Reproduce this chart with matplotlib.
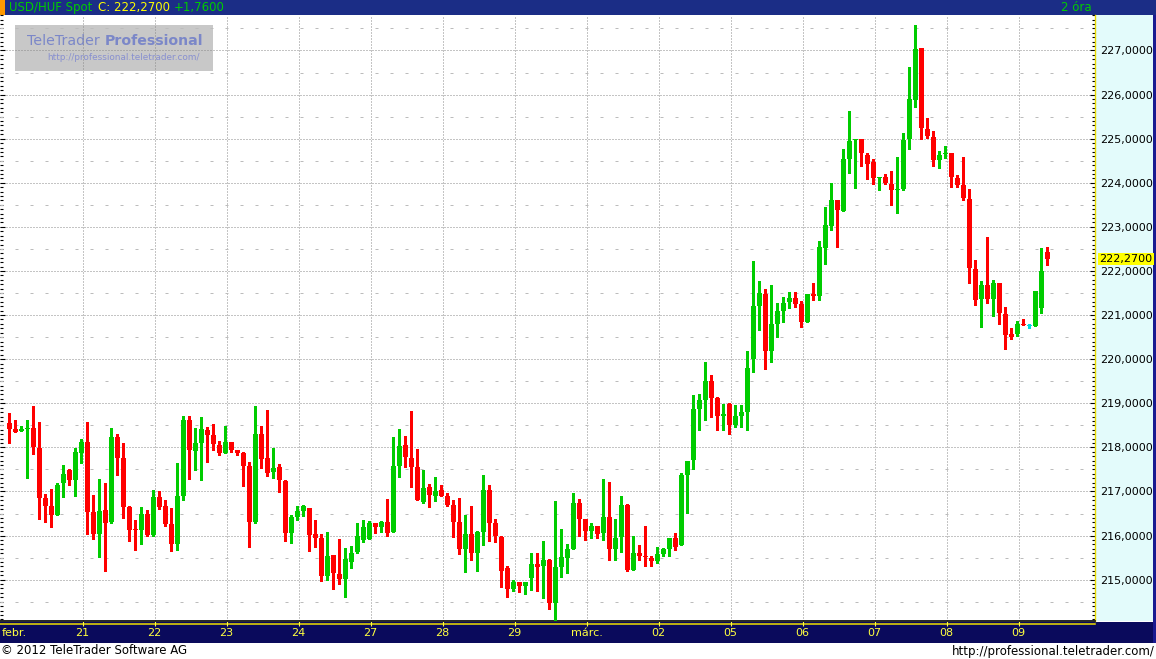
import numpy as np
import matplotlib.pyplot as plt
from matplotlib.patches import Rectangle
from matplotlib.ticker import MultipleLocator, FuncFormatter

# 2-hour USD/HUF candles, 12 per trading day
opens = np.array([
    218.55, 218.42, 218.38, 218.42, 218.44, 217.99, 216.85, 216.67, 216.47, 217.20, 217.49, 217.27,
    217.88, 218.12, 216.53, 216.04, 216.58, 216.31, 218.24, 217.76, 216.64, 216.15, 216.13, 216.48,
    216.01, 216.87, 216.67, 216.26, 215.81, 216.90, 218.62, 217.92, 218.11, 218.39, 218.28, 218.05,
    217.88, 218.12, 217.94, 217.87, 217.58, 216.31, 218.30, 217.76, 217.45, 217.55, 217.24, 216.06,
    216.42, 216.55, 216.62, 216.03, 215.94, 215.08, 215.55, 215.14, 215.02, 215.40, 215.63, 215.90,
    215.92, 216.28, 216.20, 216.30, 216.08, 217.58, 218.05, 217.76, 217.55, 216.77, 217.10, 216.90,
    217.03, 216.90, 216.69, 216.30, 215.70, 216.03, 215.61, 216.08, 217.03, 216.28, 215.96, 215.26,
    214.79, 214.94, 214.86, 215.04, 215.35, 215.31, 215.44, 214.47, 215.29, 215.49, 215.70, 216.73,
    216.37, 216.11, 216.21, 216.06, 216.42, 215.70, 215.97, 216.69, 215.22, 215.60, 215.53, 215.50,
    215.42, 215.58, 215.70, 215.94, 215.79, 217.38, 217.71, 218.87, 219.08, 219.51, 219.12, 218.71,
    218.99, 218.50, 218.71, 218.80, 220.01, 221.21, 221.48, 220.19, 220.80, 221.10, 221.30, 221.39,
    221.26, 220.85, 221.47, 221.44, 222.53, 223.03, 223.60, 223.37, 224.53, 224.96, 225.00, 224.64,
    224.48, 224.10, 224.14, 223.98, 223.83, 223.87, 224.99, 225.87, 227.05, 225.23, 225.03, 224.52,
    224.66, 224.67, 224.12, 223.94, 223.64, 222.05, 221.36, 221.68, 221.36, 221.73, 221.02, 220.57,
    220.56, 220.80, 220.75, 220.76, 221.15, 222.42,
])
highs = np.array([
    218.78, 218.62, 218.49, 218.62, 218.94, 218.58, 216.94, 217.05, 217.19, 217.60, 217.51, 217.99,
    218.18, 218.58, 216.92, 217.28, 217.19, 218.44, 218.30, 218.10, 216.67, 216.36, 216.64, 216.58,
    217.03, 217.00, 216.80, 216.62, 217.64, 218.71, 218.71, 218.44, 218.69, 218.46, 218.53, 218.14,
    218.49, 218.12, 217.94, 217.89, 217.67, 218.94, 218.48, 218.85, 217.98, 217.62, 217.26, 216.46,
    216.67, 216.69, 216.62, 216.35, 216.03, 216.08, 215.57, 215.92, 215.71, 215.76, 216.28, 216.35,
    216.33, 216.28, 216.33, 216.83, 218.23, 218.42, 218.26, 218.83, 217.96, 217.48, 217.17, 217.33,
    217.14, 216.96, 216.80, 216.86, 216.46, 216.67, 216.10, 217.37, 217.14, 216.37, 215.98, 215.30,
    214.99, 214.94, 214.94, 215.60, 215.60, 215.87, 215.46, 216.78, 216.14, 215.80, 216.96, 216.83,
    216.37, 216.28, 216.21, 217.28, 217.21, 216.37, 216.89, 216.71, 215.98, 215.78, 216.21, 215.53,
    215.73, 215.71, 215.94, 216.05, 217.42, 217.69, 219.19, 219.21, 219.94, 219.64, 219.14, 218.98,
    219.00, 218.96, 218.96, 220.19, 222.23, 221.78, 221.60, 221.69, 221.28, 221.42, 221.53, 221.53,
    221.33, 221.48, 221.73, 222.67, 223.44, 224.00, 223.62, 224.76, 225.62, 225.00, 225.00, 224.67,
    224.53, 224.14, 224.19, 224.26, 224.58, 225.14, 226.62, 227.58, 227.05, 225.46, 225.17, 224.73,
    224.83, 224.67, 224.17, 224.58, 223.85, 222.25, 221.77, 222.76, 221.80, 221.73, 221.18, 220.70,
    220.87, 220.92, 220.80, 221.55, 222.53, 222.55,
])
lows = np.array([
    218.11, 218.35, 218.37, 217.31, 217.86, 216.38, 216.31, 216.20, 216.47, 216.88, 217.15, 216.89,
    217.65, 216.04, 215.93, 215.52, 215.20, 216.29, 217.38, 216.40, 215.88, 215.67, 215.81, 216.00,
    216.00, 216.60, 216.22, 215.66, 215.67, 216.81, 217.29, 217.49, 217.27, 217.67, 217.95, 217.83,
    217.88, 217.90, 217.83, 217.13, 215.74, 216.29, 217.54, 217.36, 217.31, 216.98, 215.88, 215.83,
    216.36, 216.45, 215.66, 215.74, 214.98, 215.00, 214.78, 214.90, 214.60, 215.27, 215.60, 215.86,
    215.92, 216.06, 216.08, 215.98, 216.08, 217.33, 217.56, 217.10, 216.81, 216.74, 216.65, 216.79,
    216.90, 216.67, 215.97, 215.58, 215.17, 215.45, 215.20, 215.79, 215.88, 215.86, 214.83, 214.61,
    214.74, 214.72, 214.67, 214.77, 214.74, 214.58, 214.33, 214.08, 215.05, 215.15, 215.70, 216.00,
    215.90, 215.95, 215.95, 215.90, 215.45, 215.45, 215.63, 215.20, 215.22, 215.45, 215.31, 215.31,
    215.38, 215.54, 215.54, 215.67, 215.79, 216.52, 217.51, 218.39, 218.62, 218.69, 218.39, 218.39,
    218.30, 218.46, 218.46, 218.39, 219.71, 220.67, 219.78, 219.94, 220.51, 220.85, 221.17, 221.19,
    220.72, 220.85, 221.35, 221.35, 222.15, 222.94, 222.55, 223.37, 224.23, 223.89, 224.39, 224.08,
    223.98, 223.83, 223.98, 223.49, 223.31, 223.83, 224.77, 225.73, 224.99, 225.02, 224.38, 224.33,
    224.56, 223.90, 223.90, 223.61, 221.73, 221.23, 220.72, 221.27, 220.98, 220.79, 220.22, 220.45,
    220.52, 220.77, 220.70, 220.76, 221.04, 222.13,
])
closes = np.array([
    218.42, 218.36, 218.42, 218.44, 218.00, 216.86, 216.67, 216.47, 217.14, 217.39, 217.27, 217.89,
    218.12, 216.54, 216.04, 216.56, 216.29, 218.24, 217.77, 216.65, 216.13, 216.13, 216.48, 216.02,
    216.87, 216.65, 216.27, 215.81, 216.90, 218.62, 217.93, 218.10, 218.42, 218.29, 218.08, 217.88,
    218.12, 217.95, 217.88, 217.58, 216.31, 218.30, 217.74, 217.42, 217.53, 217.27, 216.06, 216.42,
    216.55, 216.67, 216.02, 215.94, 215.08, 215.53, 215.16, 215.02, 215.46, 215.61, 215.98, 216.20,
    216.28, 216.19, 216.30, 216.06, 217.58, 218.03, 217.79, 217.56, 216.81, 217.07, 216.92, 217.02,
    216.90, 216.69, 216.31, 215.70, 216.03, 215.61, 216.08, 217.03, 216.29, 215.99, 215.20, 214.79,
    214.95, 214.86, 214.94, 215.35, 215.29, 215.44, 214.47, 215.28, 215.51, 215.69, 216.73, 216.38,
    216.11, 216.21, 216.04, 216.42, 215.70, 215.94, 216.69, 215.22, 215.60, 215.54, 215.52, 215.42,
    215.58, 215.69, 215.94, 215.74, 217.38, 217.69, 218.87, 219.08, 219.51, 219.12, 218.71, 218.76,
    218.51, 218.71, 218.80, 219.80, 221.21, 221.51, 220.19, 220.80, 221.10, 221.28, 221.39, 221.26,
    220.85, 221.47, 221.44, 222.55, 223.05, 223.60, 223.39, 224.53, 224.94, 225.00, 224.67, 224.42,
    224.10, 224.14, 223.99, 223.83, 223.87, 224.96, 225.89, 227.03, 225.24, 225.06, 224.52, 224.64,
    224.67, 224.13, 223.95, 223.66, 222.06, 221.34, 221.68, 221.36, 221.73, 221.04, 220.54, 220.51,
    220.80, 220.77, 220.75, 221.55, 221.99, 222.27,
])

day_labels = ['febr.', '21', '22', '23', '24', '27', '28', '29', 'márc.',
              '02', '05', '06', '07', '08', '09']
day_starts = np.arange(0, len(closes), 12)
price_ticks = np.arange(215, 228, 1)

symbol = 'USD/HUF Spot'
interval = '2 óra'

W, H = 1156, 659
fig = plt.figure(figsize=(W / 100, H / 100), dpi=100)
fig.patch.set_facecolor('white')
plt.rcParams['font.family'] = ['DejaVu Sans']


def fx(px):
    return px / W


def fy(py):
    return 1 - py / H


def comma(v):
    return f'{v:.4f}'.replace('.', ',')


ax = fig.add_axes([0, fy(621), fx(1095), fy(15) - fy(621)])
ax.set_facecolor('white')

x = np.arange(len(closes))
colors = np.where(closes > opens, '#00cc00', np.where(closes < opens, '#ff0000', '#00dddd'))
body_lo = np.minimum(opens, closes)
body_h = np.maximum(np.abs(closes - opens), 0.025)

ax.vlines(x, lows, highs, colors=colors, lw=1.0, zorder=3, antialiased=False)
ax.bar(x, body_h, bottom=body_lo, width=0.84, color=colors, lw=0, zorder=4,
       antialiased=False)

ax.set_xlim(-1.555, 180.94)
ax.set_ylim(214.063, 227.805)

# grid: dotted at whole prices and day starts, sparse dashes at half prices
ax.set_axisbelow(True)
ax.set_xticks(day_starts[1:] + 0.2)
ax.set_xticklabels(day_labels[1:])
ax.yaxis.set_major_locator(MultipleLocator(1))
ax.yaxis.set_minor_locator(MultipleLocator(0.1))
ax.yaxis.set_major_formatter(FuncFormatter(lambda v, p: comma(v)))
ax.grid(True, which='major', color='#8a8a8a', ls=(0, (1, 2)), lw=0.72)
ax.hlines(np.append(price_ticks - 0.5, price_ticks[-1] + 0.5), -1.555, 180.94,
          colors='#bcbcbc', ls=(0, (3, 12)), lw=0.72, zorder=0.6)

ax.tick_params(axis='y', which='both', direction='in', left=True, right=True,
               labelleft=False, labelright=True, color='black', pad=3.6,
               labelsize=8, labelcolor='black')
ax.tick_params(axis='y', which='major', length=3.6, width=0.8)
ax.tick_params(axis='y', which='minor', length=2.2, width=0.8)
ax.tick_params(axis='x', direction='out', length=3.6, width=0.8, color='#ffff40',
               labelcolor='#ffff40', labelsize=8, pad=1.6)

for s in ['left', 'top']:
    ax.spines[s].set_visible(False)
ax.spines['right'].set_color('#e8d800')
ax.spines['right'].set_linewidth(1.0)
ax.spines['bottom'].set_color('black')
ax.spines['bottom'].set_linewidth(1.2)

# first day label sits at the left edge
fig.text(fx(2), fy(632.5), day_labels[0], color='#ffff40', fontsize=8, va='center')

# frame pieces
fig.patches.append(Rectangle((0, fy(14.8)), 1, 14.8 / H, transform=fig.transFigure,
                             fc='#1b2d86', ec='none', zorder=-1))
fig.patches.append(Rectangle((0, fy(14.8)), fx(5), 14.8 / H, transform=fig.transFigure,
                             fc='#ff9900', ec='none', zorder=-0.5))
fig.patches.append(Rectangle((0, fy(643)), 1, (643 - 621.5) / H, transform=fig.transFigure,
                             fc='#0a0a5c', ec='none', zorder=-1))
fig.patches.append(Rectangle((fx(1096), fy(620.5)), fx(57), (620.5 - 14.8) / H,
                             transform=fig.transFigure, fc='#e3fbfb', ec='none', zorder=-1))
fig.patches.append(Rectangle((fx(1153), fy(643)), fx(3), (643 - 14.8) / H,
                             transform=fig.transFigure, fc='#1a1a90', ec='none', zorder=-0.5))
fig.lines.append(plt.Line2D([0, fx(1095)], [fy(623.5), fy(623.5)], transform=fig.transFigure,
                            color='#f0e000', lw=1.1, zorder=-0.5))

# header
t1 = fig.text(fx(9), fy(7.5), symbol, color='#00cc00', fontsize=8.5, va='center')
t2 = ax.annotate(f'C: {comma(closes[-1])}', xy=(1, 0.5), xycoords=t1, xytext=(4, 0),
                 textcoords='offset points', va='center', color='#ffff00', fontsize=8.5)
chg = closes[-1] - closes[day_starts[-1] - 1]
ax.annotate(('+' if chg >= 0 else '') + comma(chg), xy=(1, 0.5), xycoords=t2,
            xytext=(3, 0), textcoords='offset points', va='center', color='#00cc00',
            fontsize=8.5)
fig.text(fx(1092), fy(7.5), interval, color='#00cc00', fontsize=8.5, va='center', ha='right')

# last price tag
ax.annotate(comma(closes[-1]), xy=(fx(1099.5), closes[-1]), xycoords=('figure fraction', 'data'),
            ha='left', va='center', fontsize=8, color='black', annotation_clip=False,
            bbox=dict(boxstyle='square,pad=0.12', fc='#ffff00', ec='none'))

# watermark
ax.add_patch(Rectangle((fx(15), fy(71)), fx(198), 46 / H, transform=fig.transFigure,
                       fc='#c8c8c8', ec='none', zorder=0.2))
wt = ax.text(fx(27), fy(41), 'TeleTrader ', transform=fig.transFigure, fontsize=10.2,
             color='#7b87c8', va='center', zorder=0.3)
ax.annotate('Professional', xy=(1, 0.5), xycoords=wt, va='center', fontsize=10.2,
            fontweight='bold', color='#7b87c8', zorder=0.3)
ax.text(fx(47), fy(57), 'http://professional.teletrader.com/', transform=fig.transFigure,
        fontsize=6.4, color='#8890d0', va='center', zorder=0.3)

# footer
fig.text(fx(1), fy(651), '© 2012 TeleTrader Software AG', fontsize=8.5, va='center')
fig.text(fx(1155), fy(651), 'http://professional.teletrader.com/', fontsize=8.5,
         va='center', ha='right')

fig.savefig('out.png', dpi=100)
